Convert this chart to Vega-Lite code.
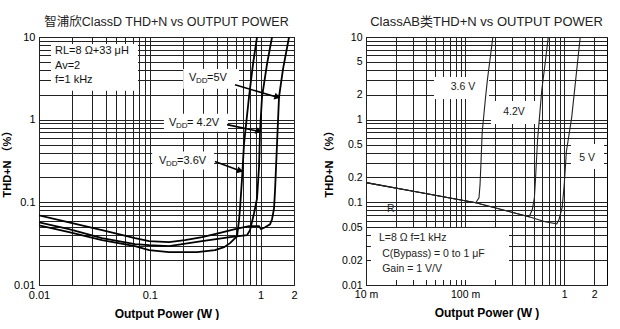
{
  "$schema": "https://vega.github.io/schema/vega-lite/v6.json",
  "padding": {"left": 1, "top": 15, "right": 0, "bottom": 0},
  "background": "white",
  "config": {
    "view": {"stroke": "#000", "strokeWidth": 1},
    "font": "Liberation Sans",
    "axis": {"grid": true, "gridColor": "#222", "gridWidth": 1, "gridOpacity": 1, "domain": false, "ticks": false, "labelFont": "Liberation Sans", "labelFontSize": 11, "labelColor": "#000", "labelOverlap": false, "labelFlush": false, "labelBound": false, "titleFont": "Liberation Sans, Noto Sans CJK SC", "titleFontWeight": "bold", "titleColor": "#000", "titleFontSize": 12},
    "title": {"font": "Liberation Sans, Noto Sans CJK SC", "fontSize": 13, "fontWeight": "normal", "color": "#222", "offset": 3, "frame": "group"},
    "concat": {"spacing": 25}
  },
  "datasets": {
    "leftCurves": [
      {"s": "5V", "x": 0.01, "y": 0.0697},
      {"s": "5V", "x": 0.01866, "y": 0.0574},
      {"s": "5V", "x": 0.03704, "y": 0.046},
      {"s": "5V", "x": 0.07353, "y": 0.0368},
      {"s": "5V", "x": 0.09836, "y": 0.0339},
      {"s": "5V", "x": 0.1491, "y": 0.033},
      {"s": "5V", "x": 0.2078, "y": 0.0348},
      {"s": "5V", "x": 0.2959, "y": 0.0379},
      {"s": "5V", "x": 0.4212, "y": 0.0423},
      {"s": "5V", "x": 0.5875, "y": 0.0473},
      {"s": "5V", "x": 0.7856, "y": 0.0514},
      {"s": "5V", "x": 0.9674, "y": 0.0514},
      {"s": "5V", "x": 1.0083, "y": 0.0473},
      {"s": "5V", "x": 1.0957, "y": 0.05},
      {"s": "5V", "x": 1.2155, "y": 0.0543},
      {"s": "5V", "x": 1.2672, "y": 0.0624},
      {"s": "5V", "x": 1.321, "y": 0.0847},
      {"s": "5V", "x": 1.3489, "y": 0.1395},
      {"s": "5V", "x": 1.406, "y": 0.5138},
      {"s": "5V", "x": 1.4657, "y": 1.893},
      {"s": "5V", "x": 1.593, "y": 4.116},
      {"s": "5V", "x": 1.8046, "y": 10},
      {"s": "4.2V", "x": 0.01, "y": 0.0574},
      {"s": "4.2V", "x": 0.01866, "y": 0.0473},
      {"s": "4.2V", "x": 0.03704, "y": 0.0368},
      {"s": "4.2V", "x": 0.07353, "y": 0.0312},
      {"s": "4.2V", "x": 0.09836, "y": 0.0303},
      {"s": "4.2V", "x": 0.1491, "y": 0.0295},
      {"s": "4.2V", "x": 0.2959, "y": 0.0339},
      {"s": "4.2V", "x": 0.5294, "y": 0.0379},
      {"s": "4.2V", "x": 0.7538, "y": 0.04},
      {"s": "4.2V", "x": 0.8021, "y": 0.046},
      {"s": "4.2V", "x": 0.8717, "y": 0.0737},
      {"s": "4.2V", "x": 0.9278, "y": 0.1117},
      {"s": "4.2V", "x": 0.9674, "y": 0.2715},
      {"s": "4.2V", "x": 0.9876, "y": 0.737},
      {"s": "4.2V", "x": 1.0294, "y": 1.893},
      {"s": "4.2V", "x": 1.1424, "y": 4.73},
      {"s": "4.2V", "x": 1.2672, "y": 10},
      {"s": "3.6V", "x": 0.01, "y": 0.0528},
      {"s": "3.6V", "x": 0.01866, "y": 0.0435},
      {"s": "3.6V", "x": 0.03704, "y": 0.0348},
      {"s": "3.6V", "x": 0.07353, "y": 0.0295},
      {"s": "3.6V", "x": 0.09836, "y": 0.0264},
      {"s": "3.6V", "x": 0.1491, "y": 0.025},
      {"s": "3.6V", "x": 0.2667, "y": 0.025},
      {"s": "3.6V", "x": 0.3877, "y": 0.0264},
      {"s": "3.6V", "x": 0.4675, "y": 0.0287},
      {"s": "3.6V", "x": 0.5294, "y": 0.0321},
      {"s": "3.6V", "x": 0.6124, "y": 0.0389},
      {"s": "3.6V", "x": 0.6383, "y": 0.0607},
      {"s": "3.6V", "x": 0.6518, "y": 0.0847},
      {"s": "3.6V", "x": 0.6794, "y": 0.1946},
      {"s": "3.6V", "x": 0.7083, "y": 0.5138},
      {"s": "3.6V", "x": 0.7856, "y": 1.893},
      {"s": "3.6V", "x": 0.8538, "y": 4.73},
      {"s": "3.6V", "x": 0.9278, "y": 10}
    ],
    "leftBoxes": [
      {"x": 0.01283, "x2": 0.0782, "y": 2.236, "y2": 8.23},
      {"x": 0.2, "x2": 0.638, "y": 2.36, "y2": 4.11},
      {"x": 0.134, "x2": 0.508, "y": 0.716, "y2": 1.18},
      {"x": 0.105, "x2": 0.38, "y": 0.25, "y2": 0.411}
    ],
    "leftArrows": [
      {"x": 0.587, "y": 2.64, "x2": 1.466, "y2": 1.84},
      {"x": 0.498, "y": 0.871, "x2": 0.99, "y2": 0.716},
      {"x": 0.387, "y": 0.312, "x2": 0.679, "y2": 0.236}
    ],
    "leftHeads": [
      {"x": 1.42, "y": 1.88},
      {"x": 0.96, "y": 0.725},
      {"x": 0.655, "y": 0.241}
    ],
    "leftNotes": [
      {"x": 0.01394, "y": 6.78, "t": "RL=8 Ω+33 μH"},
      {"x": 0.01394, "y": 4.47, "t": "Av=2"},
      {"x": 0.01394, "y": 3.03, "t": "f=1 kHz"}
    ],
    "leftLabels": [
      {"x": 0.2259, "y": 3.206, "rest": "=5V"},
      {"x": 0.1491, "y": 0.9203, "rest": "= 4.2V"},
      {"x": 0.1211, "y": 0.3206, "rest": "=3.6V"}
    ],
    "rightCurves": [
      {"s": "3.6V", "x": 0.01, "y": 0.173},
      {"s": "3.6V", "x": 0.032, "y": 0.1345},
      {"s": "3.6V", "x": 0.1281, "y": 0.0989},
      {"s": "3.6V", "x": 0.138, "y": 0.1137},
      {"s": "3.6V", "x": 0.1414, "y": 0.1636},
      {"s": "3.6V", "x": 0.145, "y": 0.3293},
      {"s": "3.6V", "x": 0.1486, "y": 0.701},
      {"s": "3.6V", "x": 0.16, "y": 1.764},
      {"s": "3.6V", "x": 0.1681, "y": 3.088},
      {"s": "3.6V", "x": 0.1812, "y": 6.22},
      {"s": "3.6V", "x": 0.1904, "y": 10},
      {"s": "4.2V", "x": 0.01, "y": 0.173},
      {"s": "4.2V", "x": 0.032, "y": 0.1345},
      {"s": "4.2V", "x": 0.1281, "y": 0.0989},
      {"s": "4.2V", "x": 0.4417, "y": 0.0668},
      {"s": "4.2V", "x": 0.4757, "y": 0.0813},
      {"s": "4.2V", "x": 0.5, "y": 0.1137},
      {"s": "4.2V", "x": 0.5125, "y": 0.1882},
      {"s": "4.2V", "x": 0.5253, "y": 0.3293},
      {"s": "4.2V", "x": 0.5384, "y": 0.576},
      {"s": "4.2V", "x": 0.5658, "y": 1.16},
      {"s": "4.2V", "x": 0.5946, "y": 2.333},
      {"s": "4.2V", "x": 0.6404, "y": 4.7},
      {"s": "4.2V", "x": 0.6898, "y": 10},
      {"s": "5V", "x": 0.01, "y": 0.173},
      {"s": "5V", "x": 0.032, "y": 0.1345},
      {"s": "5V", "x": 0.1281, "y": 0.0989},
      {"s": "5V", "x": 0.4417, "y": 0.0668},
      {"s": "5V", "x": 0.6404, "y": 0.0581},
      {"s": "5V", "x": 0.8407, "y": 0.0549},
      {"s": "5V", "x": 0.8836, "y": 0.0614},
      {"s": "5V", "x": 0.9517, "y": 0.086},
      {"s": "5V", "x": 1.0, "y": 0.1636},
      {"s": "5V", "x": 1.051, "y": 0.4116},
      {"s": "5V", "x": 1.189, "y": 1.066},
      {"s": "5V", "x": 1.346, "y": 4.32},
      {"s": "5V", "x": 1.45, "y": 10}
    ],
    "rightBoxes": [
      {"x": 0.04857, "x2": 0.1743, "y": 1.778, "y2": 3.281},
      {"x": 0.1825, "x2": 0.5568, "y": 0.8863, "y2": 1.681},
      {"x": 1.171, "x2": 2.522, "y": 0.2531, "y2": 0.5078},
      {"x": 0.01123, "x2": 0.2773, "y": 0.0115, "y2": 0.0489}
    ],
    "rightLabels": [
      {"x": 0.0952, "y": 2.484, "t": "3.6 V"},
      {"x": 0.3114, "y": 1.238, "t": "4.2V"},
      {"x": 1.699, "y": 0.3439, "t": "5 V"}
    ],
    "rightNotes": [
      {"x": 0.01353, "y": 0.037, "t": "L=8  Ω  f=1 kHz"},
      {"x": 0.01455, "y": 0.0237, "t": "C(Bypass) = 0 to 1  μF"},
      {"x": 0.01455, "y": 0.0156, "t": "Gain = 1 V/V"},
      {"x": 0.01628, "y": 0.0831, "t": "R"}
    ]
  },
  "hconcat": [
    {
      "width": 255,
      "height": 248,
      "title": {"text": "智浦欣ClassD THD+N vs OUTPUT POWER", "fontSize": 12.5, "offset": 3},
      "encoding": {
        "x": {"field": "x", "type": "quantitative", "scale": {"type": "log", "domain": [0.01, 2], "nice": false},
          "axis": {"title": "Output Power   (W  )", "values": [0.01,0.02,0.03,0.04,0.05,0.06,0.07,0.08,0.09,0.1,0.2,0.3,0.4,0.5,0.6,0.7,0.8,0.9,1,2],
            "labelExpr": "datum.value == 0.01 ? '0.01' : datum.value == 0.1 ? '0.1' : datum.value == 1 ? '1' : datum.value == 2 ? '2' : ''",
            "labelPadding": 4, "titlePadding": 8}},
        "y": {"field": "y", "type": "quantitative", "scale": {"type": "log", "domain": [0.01, 10], "nice": false},
          "axis": {"title": "THD+N （%）", "values": [0.01,0.02,0.03,0.04,0.05,0.06,0.07,0.08,0.09,0.1,0.2,0.3,0.4,0.5,0.6,0.7,0.8,0.9,1,2,3,4,5,6,7,8,9,10],
            "labelExpr": "datum.value == 0.01 ? '0.01' : datum.value == 0.1 ? '0.1' : datum.value == 1 ? '1' : datum.value == 10 ? '10' : ''",
            "labelPadding": 4, "titlePadding": 1, "titleFontSize": 11}}
      },
      "layer": [
        {"data": {"name": "leftBoxes"}, "mark": {"type": "rect", "fill": "white", "strokeWidth": 0}, "encoding": {"x2": {"field": "x2"}, "y2": {"field": "y2"}}},
        {"data": {"name": "leftCurves"}, "mark": {"type": "line", "color": "#000", "strokeWidth": 1.8, "clip": true}, "encoding": {"detail": {"field": "s"}}},
        {"data": {"name": "leftArrows"}, "mark": {"type": "rule", "color": "#000", "strokeWidth": 1.6}, "encoding": {"x2": {"field": "x2"}, "y2": {"field": "y2"}}},
        {"data": {"name": "leftHeads"}, "mark": {"type": "point", "shape": "triangle-right", "filled": true, "color": "#000", "size": 50, "angle": 16, "opacity": 1}},
        {"data": {"name": "leftNotes"}, "mark": {"type": "text", "align": "left", "baseline": "middle", "fontSize": 11, "color": "#111"}, "encoding": {"text": {"field": "t"}}},
        {"data": {"name": "leftLabels"}, "mark": {"type": "text", "align": "left", "baseline": "middle", "fontSize": 11, "color": "#111"}, "encoding": {"text": {"value": "V"}}},
        {"data": {"name": "leftLabels"}, "mark": {"type": "text", "align": "left", "baseline": "middle", "fontSize": 8, "dx": 7, "dy": 3, "color": "#111"}, "encoding": {"text": {"value": "DD"}}},
        {"data": {"name": "leftLabels"}, "mark": {"type": "text", "align": "left", "baseline": "middle", "fontSize": 11, "dx": 18, "color": "#111"}, "encoding": {"text": {"field": "rest"}}}
      ]
    },
    {
      "width": 241,
      "height": 248,
      "title": {"text": "ClassAB类THD+N vs OUTPUT POWER", "fontSize": 13, "offset": 3},
      "encoding": {
        "x": {"field": "x", "type": "quantitative", "scale": {"type": "log", "domain": [0.01, 2.7], "nice": false},
          "axis": {"title": "Output Power   (W  )", "values": [0.01,0.02,0.03,0.04,0.05,0.06,0.07,0.08,0.09,0.1,0.2,0.3,0.4,0.5,0.6,0.7,0.8,0.9,1,2],
            "labelExpr": "datum.value == 0.01 ? '10 m' : datum.value == 0.1 ? '100 m' : datum.value == 1 ? '1' : datum.value == 2 ? '2' : ''",
            "labelPadding": 4, "titlePadding": 8, "labelFontSize": 10.5}},
        "y": {"field": "y", "type": "quantitative", "scale": {"type": "log", "domain": [0.01, 10], "nice": false},
          "axis": {"title": "THD+N （%）", "values": [0.01,0.02,0.03,0.04,0.05,0.06,0.07,0.08,0.09,0.1,0.2,0.3,0.4,0.5,0.6,0.7,0.8,0.9,1,2,3,4,5,6,7,8,9,10],
            "labelExpr": "indexof([10,5,2,1,0.5,0.2,0.1,0.05,0.02,0.01], datum.value) >= 0 ? '' + datum.value : ''",
            "labelPadding": 4, "titlePadding": 7, "titleFontSize": 11, "labelFontSize": 10.5}}
      },
      "layer": [
        {"data": {"name": "rightBoxes"}, "mark": {"type": "rect", "fill": "white", "strokeWidth": 0}, "encoding": {"x2": {"field": "x2"}, "y2": {"field": "y2"}}},
        {"data": {"name": "rightCurves"}, "mark": {"type": "line", "color": "#222", "strokeWidth": 1.1, "clip": true}, "encoding": {"detail": {"field": "s"}}},
        {"data": {"name": "rightLabels"}, "mark": {"type": "text", "align": "center", "baseline": "middle", "fontSize": 10.5, "color": "#222"}, "encoding": {"text": {"field": "t"}}},
        {"data": {"name": "rightNotes"}, "mark": {"type": "text", "align": "left", "baseline": "middle", "fontSize": 10.5, "color": "#222"}, "encoding": {"text": {"field": "t"}}}
      ]
    }
  ]
}
